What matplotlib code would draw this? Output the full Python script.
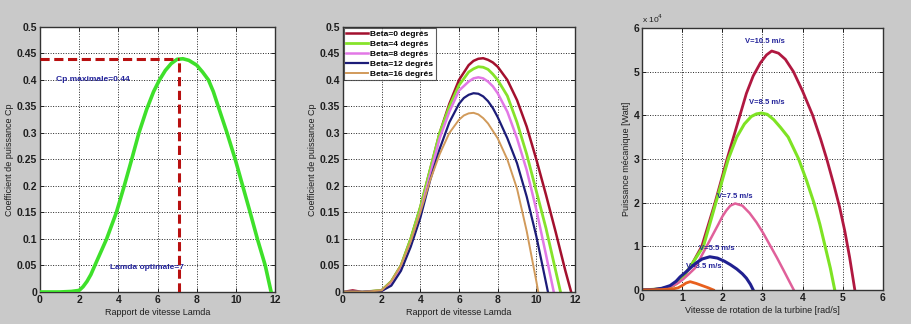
import matplotlib
matplotlib.use("Agg")
import matplotlib.pyplot as plt

# ---------------- data ----------------
# Panel 1: Cp vs lambda (beta = 0)
lam1 = [0, 1, 1.6, 2.0, 2.2, 2.4, 2.6, 2.8, 3.1, 3.4, 3.65, 3.9, 4.3, 4.68, 5.05, 5.45, 5.8, 6.1, 6.4, 6.7,
        7.0, 7.3, 7.6, 8.0, 8.3, 8.6, 8.85, 9.1, 9.55, 9.97, 10.35, 10.73, 11.1, 11.5, 11.8]
cp1 = [0, 0, 0.001, 0.003, 0.01, 0.02, 0.033, 0.05, 0.075, 0.10, 0.125, 0.15, 0.20, 0.25, 0.30, 0.345, 0.378, 0.40, 0.418, 0.431,
       0.439, 0.44, 0.437, 0.428, 0.415, 0.40, 0.378, 0.35, 0.30, 0.25, 0.20, 0.15, 0.10, 0.05, 0]
cp_max = 0.44
lam_opt = 7.1

# Panel 2: Cp vs lambda for several pitch angles
beta_labels = ["Beta=0 degrés", "Beta=4 degrés", "Beta=8 degrés", "Beta=12 degrés", "Beta=16 degrés"]
lam_b0 = [0, 0.5, 1, 2, 2.5, 3, 3.5, 4, 4.5, 5, 5.5, 6, 6.5, 6.75, 7, 7.25, 7.5, 7.75, 8, 8.5, 9, 9.5, 10, 10.5, 11, 11.5, 11.8]
cp_b0 = [0, 0.003, 0, 0.003, 0.02, 0.05, 0.10, 0.16, 0.23, 0.30, 0.355, 0.40, 0.428, 0.436, 0.44, 0.441, 0.438, 0.433, 0.425,
         0.40, 0.362, 0.312, 0.25, 0.183, 0.113, 0.04, 0]
lam_b4 = [0, 1, 2, 2.5, 3, 3.5, 4, 4.5, 5, 5.5, 6, 6.5, 6.75, 7, 7.25, 7.5, 7.75, 8, 8.5, 9, 9.5, 10, 10.5, 11, 11.25]
cp_b4 = [0, 0, 0.003, 0.02, 0.05, 0.10, 0.16, 0.23, 0.30, 0.35, 0.39, 0.415, 0.421, 0.425, 0.424, 0.42, 0.411, 0.40,
         0.37, 0.32, 0.26, 0.19, 0.12, 0.04, 0]
lam_b8 = [0, 1, 2, 2.5, 3, 3.5, 4, 4.5, 5, 5.5, 6, 6.5, 6.75, 7, 7.25, 7.5, 7.75, 8, 8.5, 9, 9.5, 10, 10.5, 10.9]
cp_b8 = [0, 0, 0.002, 0.015, 0.045, 0.09, 0.15, 0.22, 0.29, 0.34, 0.38, 0.397, 0.403, 0.405, 0.403, 0.397, 0.388, 0.375,
         0.34, 0.29, 0.23, 0.155, 0.07, 0]
lam_b12 = [0, 1, 2, 2.5, 3, 3.5, 4, 4.5, 5, 5.5, 6, 6.25, 6.5, 6.75, 7, 7.25, 7.5, 7.75, 8, 8.5, 9, 9.5, 10, 10.6]
cp_b12 = [0, 0, 0.002, 0.012, 0.04, 0.085, 0.14, 0.21, 0.27, 0.32, 0.355, 0.366, 0.372, 0.375, 0.374, 0.369, 0.36, 0.347,
          0.33, 0.29, 0.243, 0.18, 0.105, 0]
lam_b16 = [0, 1, 2, 2.5, 3, 3.5, 4, 4.5, 5, 5.5, 6, 6.25, 6.5, 6.75, 7, 7.25, 7.5, 8, 8.5, 9, 9.5, 10, 10.1]
cp_b16 = [0, 0, 0.003, 0.02, 0.05, 0.095, 0.15, 0.21, 0.26, 0.30, 0.325, 0.333, 0.337, 0.338, 0.335, 0.328, 0.318, 0.29,
          0.25, 0.195, 0.115, 0.02, 0]

# Panel 3: mechanical power (x 10^4 W) vs rotor speed (rad/s)
v_labels = ["V=10.5 m/s", "V=8.5 m/s", "V=7.5 m/s", "V=5.5 m/s", "V=3.5 m/s"]
w_v105 = [0, 0.4, 0.6, 0.78, 0.9, 1.03, 1.25, 1.49, 1.82, 2.12, 2.44, 2.6, 2.77, 2.95, 3.1, 3.23, 3.4, 3.57, 3.77,
          4.0, 4.25, 4.45, 4.6, 4.78, 4.92, 5.05, 5.17, 5.3]
p_v105 = [0, 0.02, 0.05, 0.1, 0.18, 0.3, 0.6, 1.0, 2.0, 3.0, 4.0, 4.5, 4.9, 5.2, 5.38, 5.47, 5.42, 5.28, 5.0,
          4.55, 4.0, 3.45, 3.0, 2.4, 1.9, 1.35, 0.75, 0]
w_v85 = [0, 0.4, 0.6, 0.78, 0.9, 1.03, 1.25, 1.53, 1.84, 2.15, 2.36, 2.55, 2.72, 2.85, 2.98, 3.12, 3.28, 3.45, 3.64,
         3.9, 4.1, 4.28, 4.43, 4.56, 4.69, 4.8]
p_v85 = [0, 0.02, 0.05, 0.1, 0.18, 0.3, 0.6, 1.0, 2.0, 3.0, 3.5, 3.8, 3.97, 4.03, 4.05, 4.02, 3.9, 3.72, 3.5,
         3.0, 2.5, 2.0, 1.5, 1.0, 0.5, 0]
w_v75 = [0, 0.4, 0.6, 0.78, 0.9, 1.03, 1.15, 1.32, 1.61, 1.9, 2.0, 2.1, 2.2, 2.32, 2.5, 2.68, 2.85, 3.02, 3.19, 3.36,
         3.52, 3.65, 3.78]
p_v75 = [0, 0.02, 0.05, 0.1, 0.16, 0.25, 0.35, 0.5, 1.0, 1.5, 1.68, 1.82, 1.93, 1.98, 1.93, 1.76, 1.55, 1.3, 1.02, 0.74,
         0.46, 0.23, 0]
w_v55 = [0, 0.3, 0.5, 0.7, 0.85, 0.95, 1.08, 1.2, 1.35, 1.5, 1.69, 1.88, 2.05, 2.2, 2.36, 2.5, 2.6, 2.7, 2.77]
p_v55 = [0, 0.01, 0.04, 0.1, 0.2, 0.3, 0.4, 0.5, 0.62, 0.71, 0.76, 0.73, 0.66, 0.58, 0.48, 0.37, 0.27, 0.13, 0]
w_v35 = [0, 0.5, 0.8, 0.9, 1.0, 1.1, 1.2, 1.35, 1.5, 1.65, 1.78]
p_v35 = [0, 0.01, 0.03, 0.05, 0.1, 0.16, 0.19, 0.15, 0.1, 0.05, 0.0]
v_label_pos = [(3.05, 5.68), (3.1, 4.3), (2.3, 2.13), (1.87, 0.95), (1.54, 0.53)]

cp_ticks = [0, 0.05, 0.1, 0.15, 0.2, 0.25, 0.3, 0.35, 0.4, 0.45, 0.5]
cp_ticklabels = ["0", "0.05", "0.1", "0.15", "0.2", "0.25", "0.3", "0.35", "0.4", "0.45", "0.5"]
lam_ticks = [0, 2, 4, 6, 8, 10, 12]
w_ticks = [0, 1, 2, 3, 4, 5, 6]
p_ticks = [0, 1, 2, 3, 4, 5, 6]

# ---------------- style ----------------
BG = "#c9c9c9"
TXT = "#1e1e1e"
NAVY = "#23239a"
FONT = ["Liberation Sans Narrow", "Liberation Sans", "DejaVu Sans"]
plt.rcParams["font.family"] = FONT

fig = plt.figure(figsize=(9.11, 3.24), dpi=100, facecolor=BG)

def style(ax, xlim, ylim, xt, yt, ytl=None):
    ax.set_facecolor("white")
    ax.set_xlim(*xlim)
    ax.set_ylim(*ylim)
    ax.set_xticks(xt)
    ax.set_yticks(yt)
    if ytl is not None:
        ax.set_yticklabels(ytl)
    ax.grid(True, color="#222222", linestyle=(0, (1, 1.6)), linewidth=0.7)
    ax.tick_params(direction="in", length=3, width=0.7, labelsize=7.5,
                   colors=TXT, top=True, right=True, pad=2)
    for s in ax.spines.values():
        s.set_linewidth(1.0)
        s.set_color("#333333")
    for lab in ax.get_xticklabels() + ax.get_yticklabels():
        lab.set_fontweight("bold")

# Panel 1
ax1 = fig.add_axes([0.0439, 0.0988, 0.258, 0.818])
style(ax1, (0, 12), (0, 0.5), lam_ticks, cp_ticks, cp_ticklabels)
ax1.plot(lam1, cp1, color="#3ee02a", linewidth=2.6, zorder=3, solid_joinstyle="round")
ax1.plot([0, lam_opt], [cp_max, cp_max], color="#b81010", linestyle=(0, (3, 1.5)), linewidth=2.2, zorder=4)
ax1.plot([lam_opt, lam_opt], [0, cp_max], color="#b81010", linestyle=(0, (3, 1.5)), linewidth=2.2, zorder=4)
ax1.text(0.8, 0.40, "Cp maximale=0.44", color=NAVY, fontsize=6, fontweight="bold", va="center", ha="left")
ax1.text(3.55, 0.047, "Lamda optimale=7", color=NAVY, fontsize=6, fontweight="bold", va="center", ha="left")
ax1.set_xlabel("Rapport de vitesse Lamda", fontsize=6.5, color=TXT, labelpad=2)
ax1.set_ylabel("Coefficient de puissance Cp", fontsize=6.5, color=TXT, labelpad=2)

# Panel 2
ax2 = fig.add_axes([0.3765, 0.0988, 0.2547, 0.818])
style(ax2, (0, 12), (0, 0.5), lam_ticks, cp_ticks, cp_ticklabels)
beta_x = [lam_b0, lam_b4, lam_b8, lam_b12, lam_b16]
beta_y = [cp_b0, cp_b4, cp_b8, cp_b12, cp_b16]
beta_colors = ["#a3102e", "#86e32a", "#e278e6", "#1c1c78", "#d19a5a"]
beta_lw = [1.8, 2.0, 1.8, 1.6, 1.4]
for xs, ys, c, lw, lab in zip(beta_x, beta_y, beta_colors, beta_lw, beta_labels):
    ax2.plot(xs, ys, color=c, linewidth=lw, label=lab, solid_joinstyle="round")
leg = ax2.legend(loc="upper left", frameon=True, fancybox=False,
                 borderaxespad=0.1, handlelength=2.6, handletextpad=0.3,
                 labelspacing=0.25, borderpad=0.3, prop={"family": FONT, "weight": "bold", "size": 6})
leg.get_frame().set_edgecolor("#333333")
leg.get_frame().set_linewidth(0.8)
ax2.set_xlabel("Rapport de vitesse Lamda", fontsize=6.5, color=TXT, labelpad=2)
ax2.set_ylabel("Coefficient de puissance Cp", fontsize=6.5, color=TXT, labelpad=2)

# Panel 3
ax3 = fig.add_axes([0.7047, 0.105, 0.2645, 0.809])
style(ax3, (0, 6), (0, 6), w_ticks, p_ticks)
v_x = [w_v105, w_v85, w_v75, w_v55, w_v35]
v_y = [p_v105, p_v85, p_v75, p_v55, p_v35]
v_colors = ["#b01840", "#7ee324", "#e0609a", "#202090", "#e8601e"]
v_lw = [2.0, 2.2, 1.8, 2.2, 2.0]
for xs, ys, c, lw, lab, (tx, ty) in zip(v_x, v_y, v_colors, v_lw, v_labels, v_label_pos):
    ax3.plot(xs, ys, color=c, linewidth=lw, solid_joinstyle="round")
    ax3.text(tx, ty, lab, color=NAVY, fontsize=5.5, fontweight="bold", ha="center", va="center")
ax3.text(0.0, 1.012, "x 10$^4$", transform=ax3.transAxes, fontsize=6, color=TXT,
         ha="left", va="bottom")
ax3.set_xlabel("Vitesse de rotation de la turbine [rad/s]", fontsize=6.5, color=TXT, labelpad=2)
ax3.set_ylabel("Puissance mécanique [Watt]", fontsize=6.5, color=TXT, labelpad=2)

fig.savefig("out.png", dpi=100, facecolor=BG)
